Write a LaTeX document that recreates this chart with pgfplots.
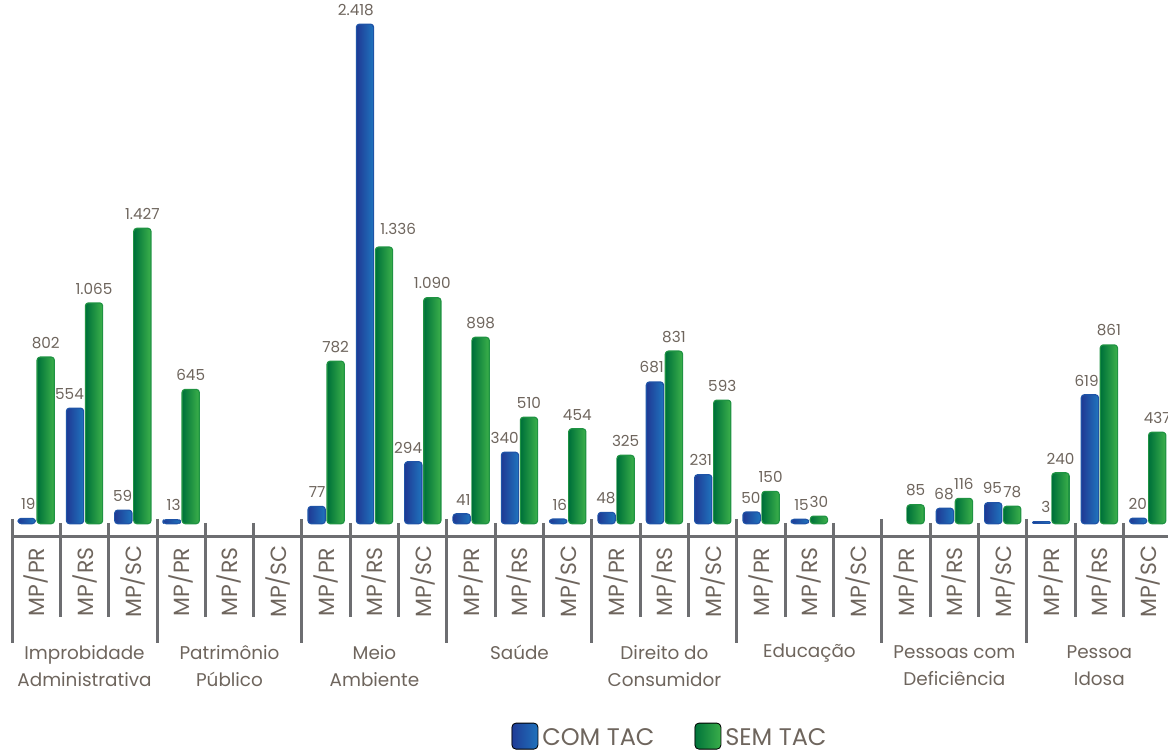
\documentclass[border=0pt]{standalone}
\usepackage{fontspec}
\setmainfont{Poppins}
\usepackage{pgfplots}
\pgfplotsset{compat=1.18}

\definecolor{txt}{HTML}{6E655D}
\definecolor{sep}{HTML}{6D6E71}
\definecolor{bluedark}{HTML}{1F3C96}
\definecolor{bluelight}{HTML}{1F72BC}
\definecolor{greendark}{HTML}{00733A}
\definecolor{greenlight}{HTML}{3AAE4A}

% subgroup index j (0..23): 3 per theme (MP/PR, MP/RS, MP/SC)
\pgfplotstableread{
j  v
0  19
1  554
2  59
3  13
6  77
7  2418
8  294
9  41
10 340
11 16
12 48
13 681
14 231
15 50
16 15
19 68
20 95
21 3
22 619
23 20
}\comtac
\pgfplotstableread{
j  v
0  802
1  1065
2  1427
3  645
6  782
7  1336
8  1090
9  898
10 510
11 454
12 325
13 831
14 593
15 150
16 30
18 85
19 116
20 78
21 240
22 861
23 437
}\semtac

\pgfplotsset{
  bluebar/.style={draw=none, left color=bluedark, right color=bluelight,
    rounded corners=1.2pt, bar shift=-4.75pt,
    preaction={draw=bluedark!55!bluelight, line width=1.3pt, line join=round},
    nodes near coords style={anchor=south east, inner xsep=0pt, xshift=4.6pt}},
  greenbar/.style={draw=none, left color=greendark, right color=greenlight,
    rounded corners=1.2pt, bar shift=4.75pt,
    preaction={draw=greendark!45!greenlight, line width=1.3pt, line join=round}},
}

\begin{document}
\begin{tikzpicture}
\begin{axis}[
  name=ax,
  width=584pt, height=377pt, scale only axis,
  xmin=-0.749, xmax=23.42,
  ymin=-1121.4, ymax=2538.8,
  hide axis,
  clip=true,
  ybar, bar width=7.9pt,
  /pgf/number format/1000 sep={.},
  /pgf/number format/assume math mode=true,
  nodes near coords,
  nodes near coords style={font=\fontsize{7.6}{9}\selectfont, text=txt, inner sep=2pt, yshift=2.5pt},
  legend columns=2,
  legend style={at={(0.5745,0.022)}, anchor=center, draw=none, fill=none,
    font=\fontsize{12}{14}\selectfont, text=txt,
    /tikz/every even column/.append style={column sep=18pt}},
]
% one plot per bar so that each bar gets its own gradient
\pgfplotsinvokeforeach{0,...,23}{
  \ifnum#1=21
    \addplot[bluebar, sharp corners, forget plot, restrict x to domain=#1:#1] table[x=j, y=v] {\comtac};
  \else
    \addplot[bluebar, forget plot, restrict x to domain=#1:#1] table[x=j, y=v] {\comtac};
  \fi
  \ifnum#1=7
    \addplot[greenbar, forget plot, restrict x to domain=#1:#1,
      nodes near coords style={anchor=south west, xshift=-4pt, yshift=2pt}] table[x=j, y=v] {\semtac};
  \else
    \addplot[greenbar, forget plot, restrict x to domain=#1:#1] table[x=j, y=v] {\semtac};
  \fi
}
\addlegendimage{legend image code/.code={\fill[rounded corners=2pt, left color=bluedark, right color=bluelight] (0pt,-0.55em) rectangle (13pt,0.75em);}}
\addlegendentry{COM TAC}
\addlegendimage{legend image code/.code={\fill[rounded corners=2pt, left color=greendark, right color=greenlight] (0pt,-0.55em) rectangle (13pt,0.75em);}}
\addlegendentry{SEM TAC}

% baseline rule and separators
\draw[sep, line width=1.5pt] (axis cs:-0.5,-68) -- (axis cs:24,-68);
\pgfplotsinvokeforeach{0,...,8}{
  \draw[sep, line width=1.5pt] (axis cs:3*#1-0.5,19.4) -- (axis cs:3*#1-0.5,-582.5);
}
\pgfplotsinvokeforeach{0,...,7}{
  \draw[sep, line width=1.5pt] (axis cs:3*#1+0.5,0) -- (axis cs:3*#1+0.5,-456);
  \draw[sep, line width=1.5pt] (axis cs:3*#1+1.5,0) -- (axis cs:3*#1+1.5,-456);
  \node[rotate=90, text=txt, font=\fontsize{11}{13}\selectfont] at (axis cs:3*#1,-286) {MP/PR};
  \node[rotate=90, text=txt, font=\fontsize{11}{13}\selectfont] at (axis cs:3*#1+1,-286) {MP/RS};
  \node[rotate=90, text=txt, font=\fontsize{11}{13}\selectfont] at (axis cs:3*#1+2,-286) {MP/SC};
}

% theme labels
\tikzset{grp/.style={text=txt, align=center, font=\fontsize{9.2}{13.5}\selectfont}}
\node[grp] at (axis cs:1,-694) {Improbidade\\Administrativa};
\node[grp] at (axis cs:4,-694) {Patrimônio\\Público};
\node[grp] at (axis cs:7,-694) {Meio\\Ambiente};
\node[grp] at (axis cs:10,-630) {Saúde};
\node[grp] at (axis cs:13,-694) {Direito do\\Consumidor};
\node[grp] at (axis cs:16,-630) {Educação};
\node[grp] at (axis cs:19,-694) {Pessoas com\\Deficiência};
\node[grp] at (axis cs:22,-694) {Pessoa\\Idosa};
\end{axis}
\pgfresetboundingbox
\path[use as bounding box] (ax.south west) rectangle (ax.north east);
\end{tikzpicture}
\end{document}
